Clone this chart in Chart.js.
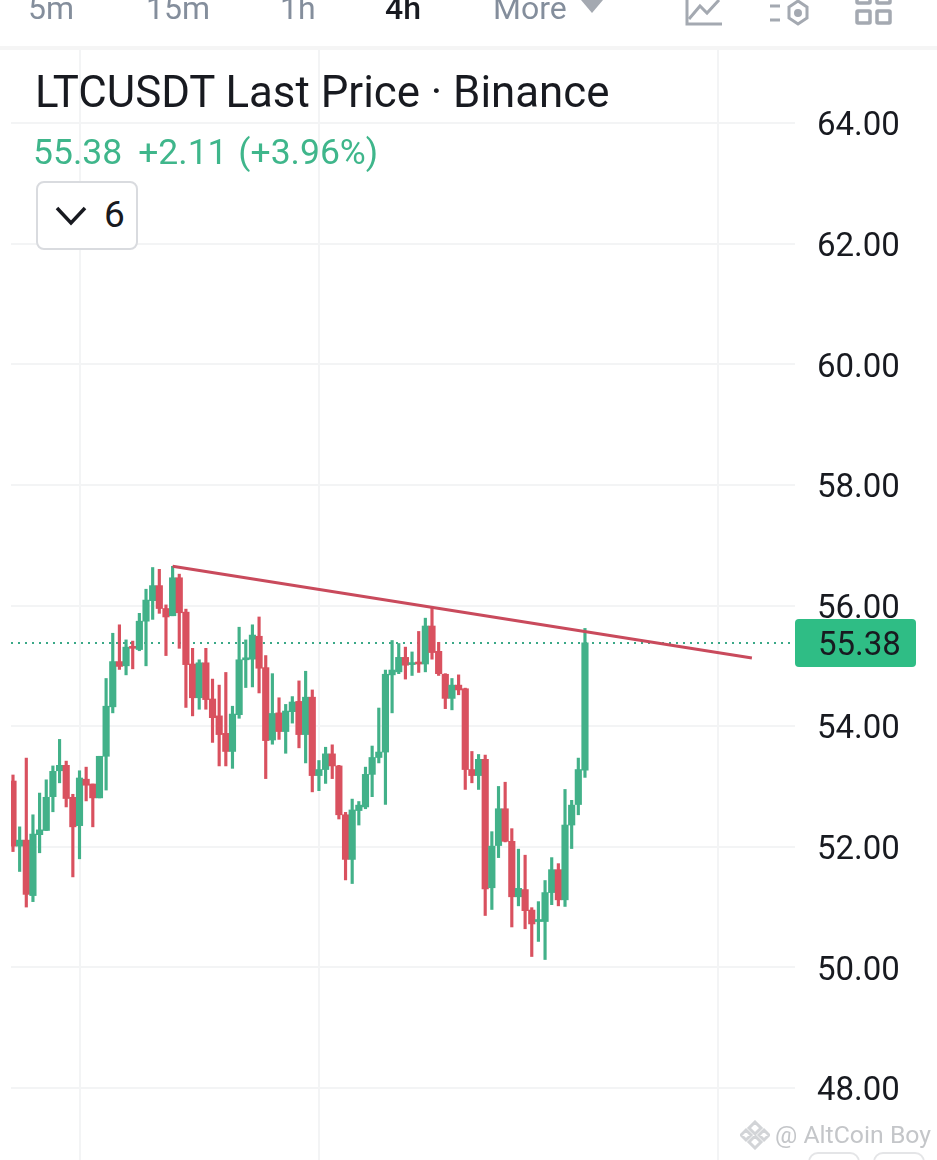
<!DOCTYPE html>
<html>
<head>
<meta charset="utf-8">
<title>LTCUSDT Last Price</title>
<script src="https://cdn.jsdelivr.net/npm/chart.js@4"></script>
<style>
  html, body { margin: 0; padding: 0; background: #fff; }
  body { width: 937px; height: 1160px; position: relative; overflow: hidden; font-family: Roboto, sans-serif; }
  #chart { position: absolute; left: 0; top: 0; }
  .txt { position: absolute; white-space: nowrap; line-height: 1; }
  .tab { color: #848e9c; font-size: 32px; top: -8px; }
  .icon { position: absolute; }
  #divider { position: absolute; left: 0; top: 46px; width: 937px; height: 4px; background: #f5f5f5; }
  #title { left: 35px; top: 71px; font-size: 43.8px; color: #181a20; }
  #quote { left: 33px; top: 135px; font-size: 35.5px; color: #3fb68b; word-spacing: 2px; }
  #quote span { margin-left: 16px; }
  #fold { position: absolute; left: 36px; top: 181px; width: 102px; height: 69px; box-sizing: border-box;
    border: 2px solid #d9dbdf; border-radius: 8px; background: #fff; }
  #mark { left: 775px; top: 1123px; font-size: 24.8px; color: #c4c6c9; }
  .stub { position: absolute; top: 1152px; width: 52px; height: 30px; box-sizing: border-box;
    border: 2px solid #e4e5e7; border-radius: 10px; background: #fff; }
</style>
</head>
<body>
<canvas id="chart" width="937" height="1160"></canvas>

<div id="divider"></div>
<div class="txt tab" style="left:28px">5m</div>
<div class="txt tab" style="left:146px">15m</div>
<div class="txt tab" style="left:280px">1h</div>
<div class="txt tab" style="left:385px;color:#181a20;font-weight:500">4h</div>
<div class="txt tab" style="left:493px">More</div>
<svg class="icon" style="left:580px;top:0" width="24" height="14"><path d="M1 0H23L12 13Z" fill="#a4a9b1"/></svg>
<svg class="icon" style="left:684px;top:0" width="40" height="28" fill="none" stroke="#a4a9b1" stroke-width="3">
  <path d="M3 0V24H38"/><path d="M5 19L16 6L23 13L35 0"/>
</svg>
<svg class="icon" style="left:768px;top:0" width="42" height="28" fill="none" stroke="#a4a9b1" stroke-width="3">
  <path d="M2 6H12M2 20H12"/><path d="M30 1L39 7V18L30 24L21 18V7Z"/><circle cx="30" cy="13" r="2.5" fill="#a4a9b1"/>
</svg>
<svg class="icon" style="left:855px;top:0" width="38" height="26" fill="none" stroke="#a4a9b1" stroke-width="3.5">
  <rect x="2" y="-8" width="13" height="11" rx="1"/><rect x="22" y="-8" width="13" height="11" rx="1"/>
  <rect x="2" y="11" width="13" height="12" rx="1"/><rect x="22" y="11" width="13" height="12" rx="1"/>
</svg>

<div class="txt" id="title">LTCUSDT Last Price · Binance</div>
<div class="txt" id="quote">55.38<span>+2.11 (+3.96%)</span></div>
<div id="fold"></div>
<svg class="icon" style="left:54px;top:206px" width="34" height="20" fill="none" stroke="#181a20" stroke-width="3.5">
  <path d="M3 2L17 17L31 2"/>
</svg>
<div class="txt" style="left:104px;top:196px;font-size:37px;color:#181a20">6</div>

<svg class="icon" style="left:740px;top:1120px" width="30" height="30" fill="none" stroke="#d2d4d7" stroke-width="3">
  <path d="M15 2L21 8L15 14L9 8ZM6 10L11 15L6 20L1 15ZM24 10L29 15L24 20L19 15ZM15 16L21 22L15 28L9 22Z"/>
</svg>
<div class="txt" id="mark">@ AltCoin Boy</div>
<div class="stub" style="left:808px"></div>
<div class="stub" style="left:873px"></div>

<script>
// Candles, oldest first
const opens = [
  53.09, 52.01, 52.11, 51.19, 52.20, 52.27, 52.83, 53.26, 53.35, 52.82,
  52.35, 53.12, 53.04, 52.81, 53.50, 54.32, 55.07, 55.00, 55.31, 55.27,
  55.74, 56.08, 56.33, 55.95, 55.83, 56.46, 55.89, 55.03, 54.47, 55.05,
  54.45, 54.17, 53.88, 53.58, 54.19, 55.10, 55.11, 55.49, 54.97, 53.77,
  54.22, 53.91, 54.24, 54.41, 53.86, 54.48, 53.18, 53.28, 53.54, 53.34,
  52.53, 51.79, 52.60, 52.66, 53.20, 53.48, 53.57, 54.85, 54.90, 55.14,
  55.02, 55.05, 55.03, 55.66, 55.24, 54.86, 54.46, 54.68, 54.62, 53.28,
  53.18, 53.45, 51.32, 52.02, 52.63, 52.09, 51.17, 51.29, 50.95, 50.76,
  50.76, 51.24, 51.62, 51.12, 52.36, 52.70, 53.27
];
const closes = [
  52.01, 52.11, 51.21, 52.21, 52.28, 52.82, 53.25, 53.35, 52.80, 52.33,
  53.14, 53.02, 52.81, 53.50, 54.33, 55.07, 54.99, 55.31, 55.29, 55.74,
  56.09, 56.33, 55.95, 55.81, 56.46, 55.88, 55.02, 54.47, 55.05, 54.44,
  54.14, 53.86, 53.58, 54.20, 55.10, 55.13, 55.51, 54.96, 53.76, 54.21,
  53.91, 54.25, 54.40, 53.86, 54.48, 53.18, 53.28, 53.54, 53.34, 52.53,
  51.79, 52.61, 52.69, 53.20, 53.48, 53.57, 54.86, 54.93, 55.14, 55.01,
  55.05, 55.03, 55.66, 55.22, 54.87, 54.46, 54.68, 54.60, 53.28, 53.18,
  53.45, 51.30, 52.01, 52.63, 52.09, 51.17, 51.31, 50.94, 50.72, 50.77,
  51.24, 51.62, 51.12, 52.36, 52.69, 53.28, 55.38
];
const highs = [
  53.19, 52.33, 53.47, 52.53, 52.89, 53.11, 53.34, 53.78, 53.42, 52.87,
  53.26, 53.32, 53.04, 53.50, 54.79, 55.54, 55.68, 55.43, 55.41, 55.87,
  56.27, 56.63, 56.60, 56.01, 56.65, 56.52, 55.94, 55.29, 55.10, 55.29,
  54.78, 54.68, 54.89, 54.33, 55.64, 55.43, 55.68, 55.81, 55.17, 54.87,
  54.47, 54.36, 54.49, 54.75, 54.91, 54.60, 53.43, 53.65, 53.69, 53.35,
  52.57, 52.79, 52.75, 53.32, 53.67, 54.30, 54.93, 55.42, 55.37, 55.31,
  55.23, 55.57, 55.79, 55.97, 55.39, 54.87, 54.79, 54.85, 54.63, 53.58,
  53.53, 53.52, 52.25, 53.00, 53.07, 52.30, 51.96, 51.86, 50.99, 51.09,
  51.44, 51.82, 51.72, 52.95, 52.77, 53.47, 55.62
];
const lows = [
  51.92, 51.59, 51.00, 51.09, 51.90, 52.27, 52.58, 53.06, 52.66, 51.50,
  51.80, 52.76, 52.33, 52.81, 52.94, 54.22, 54.94, 54.85, 54.95, 55.25,
  55.00, 55.77, 55.87, 55.17, 55.83, 55.29, 54.31, 54.17, 54.28, 54.28,
  53.73, 53.34, 53.34, 53.30, 54.13, 54.64, 54.65, 54.55, 53.13, 53.70,
  53.78, 53.55, 54.05, 53.64, 53.39, 52.91, 52.93, 53.05, 53.13, 52.46,
  51.45, 51.39, 52.36, 52.63, 52.83, 53.39, 52.70, 54.22, 54.87, 54.78,
  54.84, 54.89, 54.90, 55.11, 54.84, 54.29, 54.27, 54.52, 52.95, 53.06,
  52.95, 50.86, 50.96, 51.82, 52.08, 50.67, 51.02, 50.64, 50.18, 50.43,
  50.13, 51.04, 51.02, 51.01, 51.97, 52.53, 53.15
];

const yTickValues = [48, 50, 52, 54, 56, 58, 60, 62, 64];
const xGridIndexes = [10, 46, 106];
const lastPrice = 55.38;

// Hand drawn resistance line: [candle index, price]
const trendX = [24, 111.1];
const trendY = [56.65, 55.13];

const UP_COLOR = '#42b189';
const DOWN_COLOR = '#d9515f';
const TREND_COLOR = '#c94a5c';
const GRID_COLOR = '#f3f4f5';

const candleColors = opens.map((open, i) => (closes[i] >= open ? UP_COLOR : DOWN_COLOR));

/**
 * Draw the green last price tag on the axis
 */
const lastPriceTag = {
  id: 'lastPriceTag',
  afterDraw(chart) {
    const { ctx, chartArea, scales } = chart;
    const y = scales.y.getPixelForValue(lastPrice);
    ctx.save();
    ctx.fillStyle = '#2fbd85';
    ctx.beginPath();
    ctx.roundRect(chartArea.right, y - 24, 121, 48, 4);
    ctx.fill();
    ctx.fillStyle = '#181a20';
    ctx.font = '33px Roboto';
    ctx.textBaseline = 'middle';
    ctx.fillText(lastPrice.toFixed(2), chartArea.right + 23, y + 4);
    ctx.restore();
  }
};

new Chart(document.getElementById('chart'), {
  type: 'bar',
  data: {
    datasets: [
      {
        type: 'line',
        data: trendX.map((x, i) => ({ x: x, y: trendY[i] })),
        borderColor: TREND_COLOR,
        borderWidth: 3,
        pointRadius: 0,
        order: 0
      },
      {
        type: 'line',
        data: [{ x: -0.3, y: lastPrice }, { x: 117.58, y: lastPrice }],
        borderColor: '#3aa887',
        borderWidth: 2,
        borderDash: [2, 5],
        pointRadius: 0,
        order: 3
      },
      {
        data: opens.map((open, i) => ({ x: i, y: [open, closes[i]] })),
        backgroundColor: candleColors,
        barThickness: 6.5,
        minBarLength: 2,
        grouped: false,
        order: 1
      },
      {
        data: lows.map((low, i) => ({ x: i, y: [low, highs[i]] })),
        backgroundColor: candleColors,
        barThickness: 2.5,
        grouped: false,
        order: 2
      }
    ]
  },
  options: {
    responsive: false,
    animation: false,
    devicePixelRatio: 1,
    layout: { padding: { left: 11, top: 48, right: 0, bottom: 0 } },
    plugins: { legend: { display: false }, tooltip: { enabled: false } },
    scales: {
      x: {
        type: 'linear',
        offset: false,
        min: -0.3,
        max: 117.58,
        afterBuildTicks: scale => { scale.ticks = xGridIndexes.map(value => ({ value })); },
        afterFit: scale => { scale.height = 0; },
        ticks: { display: false },
        border: { display: false },
        grid: { offset: false, color: GRID_COLOR, lineWidth: 2, drawTicks: false }
      },
      y: {
        position: 'right',
        min: 46.806,
        max: 65.244,
        afterBuildTicks: scale => { scale.ticks = yTickValues.map(value => ({ value })); },
        // label padding would otherwise shrink the plot at the bottom
        afterFit: scale => {
          scale.width = 142;
          scale.paddingTop = 0;
          scale.paddingBottom = 0;
        },
        ticks: {
          autoSkip: false,
          crossAlign: 'near',
          padding: 22,
          labelOffset: 4,
          color: '#181a20',
          font: { family: 'Roboto', size: 33 },
          callback: value => value.toFixed(2)
        },
        border: { display: false },
        grid: { color: GRID_COLOR, lineWidth: 2, drawTicks: false }
      }
    }
  },
  plugins: [lastPriceTag]
});
</script>
</body>
</html>
